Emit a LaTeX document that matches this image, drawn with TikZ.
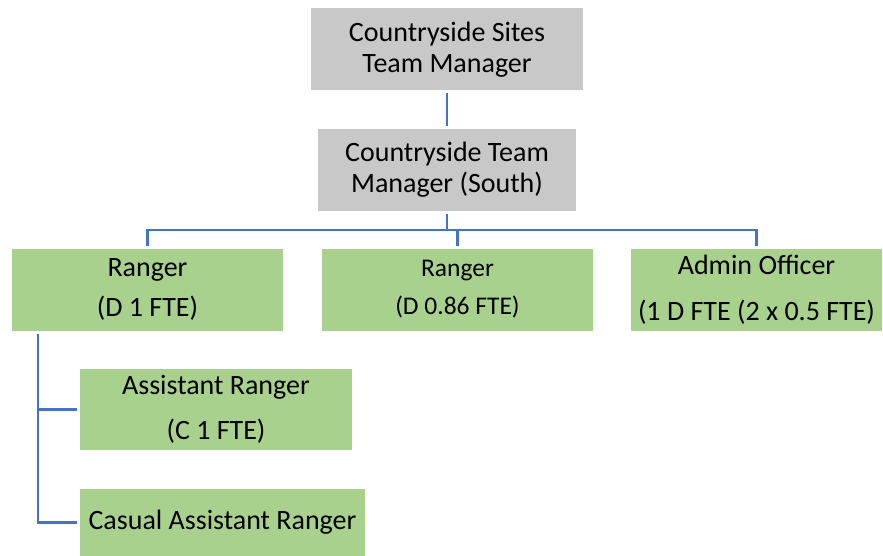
\documentclass[tikz,border=0pt]{standalone}
\usepackage{fontspec}
\setmainfont{Carlito}
\usepackage{xcolor}
\usepackage{tikz}
\usetikzlibrary{positioning}
\definecolor{BoxGrey}{HTML}{C8C8C8}
\definecolor{BoxGreen}{HTML}{A9D18E}
\definecolor{LinkBlue}{HTML}{4472C4}

\begin{document}
\begin{tikzpicture}[x=1pt, y=-1pt,
            rolebox/.style={fill=BoxGreen, inner sep=0pt, outer sep=3pt, align=center, minimum height=82pt, font=\fontsize{28}{31}\selectfont},
            headbox/.style={rolebox, fill=BoxGrey},
            link/.style={draw=LinkBlue, line width=2.3pt}
        ]
            \useasboundingbox (0,0) rectangle (883,556);

            % managers
            \node[headbox, minimum width=272pt] at (447, 49.5) (sites) {Countryside Sites\\Team Manager};
            \node[headbox, minimum width=258pt] at (447, 170) (south) {Countryside Team\\Manager (South)};

            % staff row
            \node[rolebox, minimum width=271pt] at (147.5, 289.5) (ranger) {Ranger\\[9pt](D 1 FTE)};
            \node[rolebox, minimum width=271pt, font=\fontsize{25.5}{29}\selectfont] at (457.5, 289.5) (rangertwo) {Ranger\\[9pt](D 0.86 FTE)};
            \node[rolebox, minimum width=251pt] at (756.5, 290) (admin) {Admin Officer\\[15pt](1 D FTE (2 x 0.5 FTE)};

            % under the ranger
            \node[rolebox, minimum width=272pt, minimum height=81pt] at (216, 409.5) (assistant) {Assistant Ranger\\[14pt](C 1 FTE)};
            \node[rolebox, minimum width=285pt, minimum height=67pt] at (222.5, 522.5) (casual) {Casual Assistant Ranger};

            \draw[link] (sites) -- (south);
            \coordinate (bus) at ([yshift=-16pt]south.south);
            \draw[link] (south.south) -- (bus);
            \draw[link] (ranger.north) |- (bus) -| (admin.north);
            \draw[link] (bus) -| (rangertwo.north);

            \coordinate (trunk) at ([xshift=-109.5pt]ranger.south);
            \draw[link] (trunk) |- (assistant.west);
            \draw[link] (trunk) |- (casual.west);
        \end{tikzpicture}
\end{document}
